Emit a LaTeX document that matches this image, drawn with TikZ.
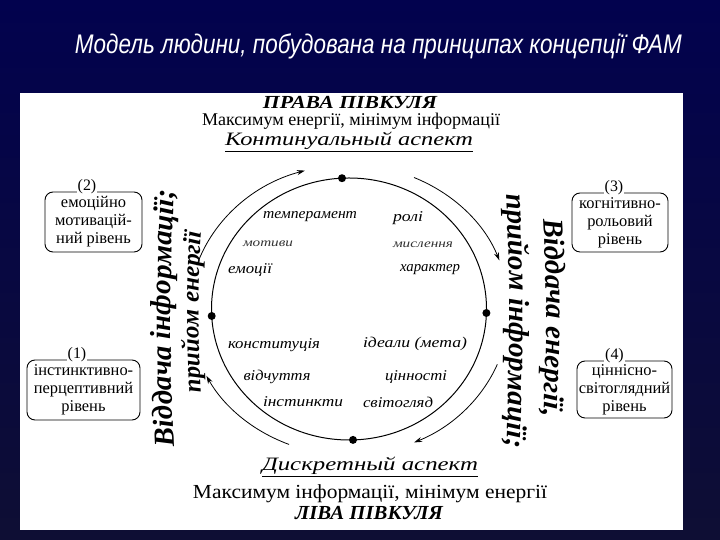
\documentclass[tikz,border=0pt]{standalone}
\usepackage{fontspec}
\setmainfont{Liberation Serif}
\newfontfamily\titlefont{Liberation Sans}
\usetikzlibrary{decorations.text,arrows.meta}
\definecolor{navytop}{RGB}{2,2,78}
\definecolor{navybot}{RGB}{14,14,52}
\newcommand{\fitw}[2]{\resizebox{#1}{\height}{#2}}
\newcommand{\fsz}[1]{\fontsize{#1}{#1}\selectfont}
\begin{document}
\begin{tikzpicture}[x=1bp,y=1bp,
  boxst/.style={draw=black, line width=0.9bp, rounded corners=8bp, align=center,
    inner sep=0pt, font=\fontsize{16.5}{18}\selectfont},
  lab/.style={fill=white, inner sep=1bp, font=\fsz{16}},
  itm/.style={inner sep=0pt, font=\fsz{15}\itshape},
  itms/.style={inner sep=0pt, font=\fsz{12}\itshape, text=black!80},
  arr/.style={-{Stealth[length=8bp,width=5bp]}, line width=0.8bp},
  circ/.style={line width=1bp}]
\useasboundingbox (0,0) rectangle (720,540);
\shade[top color=navytop, bottom color=navybot] (0,0) rectangle (720,540);
\fill[white] (20,10) rectangle (683,447);
% title
\node[text=white, font=\titlefont\itshape\fsz{27}] (title) at (378.5,494)
  {\fitw{607bp}{Модель людини, побудована на принципах концепції ФАМ}};
% header / footer
\node[font=\fsz{18.5}\bfseries\itshape] (rh) at (350,437) {\fitw{174bp}{ПРАВА ПІВКУЛЯ}};
\node[font=\fsz{18}] (rmax) at (351,418.5) {\fitw{298bp}{Максимум енергії, мінімум інформації}};
\node[font=\fsz{19}\itshape] (cont) at (349,398) {\fitw{248bp}{\underline{Континуальный аспект}}};
\node[font=\fsz{19}\itshape] (disc) at (370,73) {\fitw{216bp}{\underline{Дискретный аспект}}};
\node[font=\fsz{20}] (lmax) at (370,46) {\fitw{354bp}{Максимум інформації, мінімум енергії}};
\node[font=\fsz{20}\bfseries\itshape] (lh) at (369,26.5) {\fitw{148bp}{ЛІВА ПІВКУЛЯ}};
% inner circle
\coordinate (c) at (349,231);
\draw[circ] (c) ellipse [x radius=137.5, y radius=131];
\coordinate (dtop) at (342,361.8);
\coordinate (dright) at (486.4,227);
\coordinate (dbot) at (353,100.1);
\coordinate (dleft) at (211.7,224);
\foreach \d in {dtop,dright,dbot,dleft} \fill (\d) circle (4bp);
% outer arrows
\coordinate (oc) at (349,230);
\draw[arr] ([shift={(162:160 and 145)}]oc) arc[start angle=162, end angle=106, x radius=160, y radius=145];
\draw[arr] ([shift={(66:160 and 145)}]oc) arc[start angle=66, end angle=20, x radius=160, y radius=145];
\draw[arr] ([shift={(-22:160 and 145)}]oc) arc[start angle=-22, end angle=-66, x radius=160, y radius=145];
\draw[arr] ([shift={(248:160 and 145)}]oc) arc[start angle=248, end angle=207, x radius=160, y radius=145];
% inner items
\node[itm] (t1) at (310,323) {\fitw{94bp}{темперамент}};
\node[itm] (t2) at (408,322) {\fitw{30bp}{ролі}};
\node[itms] (t3) at (268,296) {\fitw{50bp}{мотиви}};
\node[itms] (t4) at (423,295) {\fitw{60bp}{мислення}};
\node[itm] (t5) at (250,270) {\fitw{44bp}{емоції}};
\node[itm] (t6) at (430,270) {\fitw{60bp}{характер}};
\node[itm] (t7) at (274,195) {\fitw{92bp}{конституція}};
\node[itm] (t8) at (415,196) {\fitw{104bp}{ідеали (мета)}};
\node[itm] (t9) at (277,163) {\fitw{67bp}{відчуття}};
\node[itm] (t10) at (416,163) {\fitw{62bp}{цінності}};
\node[itm] (t11) at (303,138) {\fitw{80bp}{інстинкти}};
\node[itm] (t12) at (398,138) {\fitw{70bp}{світогляд}};
% boxes
\node[boxst, minimum width=97bp, minimum height=60bp] (b2) at (93.5,318) {емоційно\\мотивацій-\\ний рівень};
\node[lab] (l2) at ([xshift=-6.5bp,yshift=5bp]b2.north) {(2)};
\node[boxst, minimum width=96bp, minimum height=59bp] (b3) at (620,317.5) {когнітивно-\\рольовий\\рівень};
\node[lab] (l3) at ([xshift=-6bp,yshift=5bp]b3.north) {(3)};
\node[boxst, minimum width=113bp, minimum height=60bp] (b1) at (83.5,150) {інстинктивно-\\перцептивний\\рівень};
\node[lab] (l1) at ([xshift=-6.5bp,yshift=5bp]b1.north) {(1)};
\node[boxst, minimum width=95bp, minimum height=57bp] (b4) at (624.5,150.5) {ціннісно-\\світоглядний\\рівень};
\node[lab] (l4) at ([xshift=-10bp,yshift=5bp]b4.north) {(4)};
% curved texts
\path[decorate, decoration={text along path, text align=center,
  text={|\fsz{29}\bfseries\itshape|Віддача інформації;}}]
  (176,66) .. controls (169,170) and (169,270) .. (176,378);
\path[decorate, decoration={text along path, text align=center,
  text={|\fsz{25}\bfseries\itshape|прийом енергії}}]
  (203,118) .. controls (197,190) and (197,260) .. (203,338);
\path[decorate, decoration={text along path, text align=center,
  text={|\fsz{29}\bfseries\itshape|прийом інформації;}}]
  (505,368) .. controls (511,270) and (511,170) .. (505,70);
\path[decorate, decoration={text along path, text align=center,
  text={|\fsz{29}\bfseries\itshape|Віддача енергії,}}]
  (541,345) .. controls (548,270) and (548,170) .. (541,99);
\end{tikzpicture}
\end{document}
